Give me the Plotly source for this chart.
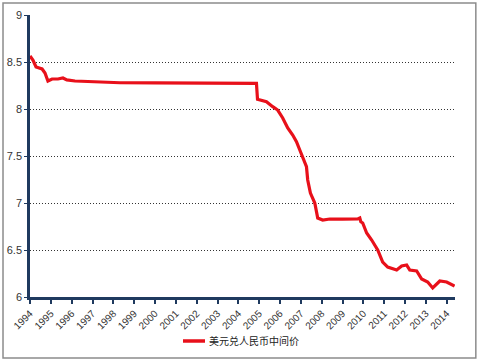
import plotly.graph_objects as go

# Monthly-ish readings (decimal year, USD/CNY central parity)
years = [1994.00, 1994.14, 1994.29, 1994.58, 1994.72, 1994.86, 1995.06, 1995.34, 1995.58,
         1995.77, 1996.16, 1997.36, 1998.32, 2000.0, 2002.0, 2004.0, 2004.87, 2004.92,
         2005.35, 2005.65, 2005.89, 2006.13, 2006.37, 2006.61, 2006.79, 2006.95, 2007.09,
         2007.27, 2007.33, 2007.46, 2007.67, 2007.81, 2008.05, 2008.39, 2009.0, 2009.73,
         2009.83, 2009.88, 2009.97, 2010.16, 2010.40, 2010.69, 2010.93, 2011.17, 2011.60,
         2011.84, 2012.08, 2012.23, 2012.56, 2012.80, 2013.09, 2013.33, 2013.67, 2014.00,
         2014.38]
rates = [8.564, 8.521, 8.447, 8.426, 8.383, 8.298, 8.319, 8.319, 8.330,
         8.309, 8.298, 8.284, 8.279, 8.278, 8.277, 8.277, 8.273, 8.103,
         8.078, 8.025, 7.989, 7.904, 7.798, 7.723, 7.652, 7.564, 7.493,
         7.387, 7.245, 7.106, 7.000, 6.840, 6.819, 6.830, 6.829, 6.830,
         6.840, 6.800, 6.787, 6.681, 6.606, 6.500, 6.372, 6.319, 6.287,
         6.330, 6.340, 6.287, 6.277, 6.191, 6.160, 6.096, 6.170, 6.160,
         6.117]
tick_years = list(range(1994, 2015))
tick_labels = [str(y) for y in tick_years]
y_ticks = [6, 6.5, 7, 7.5, 8, 8.5, 9]
y_labels = ["6", "6.5", "7", "7.5", "8", "8.5", "9"]
series_name = "美元兑人民币中间价"

line_color = "#E8101A"
fig = go.Figure()
fig.add_trace(go.Scatter(
    x=years, y=rates, mode="lines", name=series_name,
    line=dict(color=line_color, width=3.2), showlegend=False,
))

axis_color = "#1F3A5F"
fig.update_layout(
    width=479, height=363,
    margin=dict(l=30, r=24, t=15, b=66),
    paper_bgcolor="white", plot_bgcolor="white",
    font=dict(family="Liberation Sans, Arial, Noto Sans CJK SC", size=11, color="#333333"),
    showlegend=False,
    xaxis=dict(
        range=[1994, 2014.4], tickmode="array", tickvals=tick_years, ticktext=tick_labels,
        tickangle=-45, ticks="outside", ticklen=4, tickwidth=1.5, tickcolor=axis_color,
        showline=True, linecolor=axis_color, linewidth=2.5, showgrid=False, zeroline=False,
        tickfont=dict(size=10, color="#333333"), automargin=False,
    ),
    yaxis=dict(
        range=[6, 9], tickmode="array", tickvals=y_ticks, ticktext=y_labels,
        ticks="outside", ticklen=3, tickwidth=1, tickcolor=axis_color,
        showline=True, linecolor=axis_color, linewidth=2.5,
        showgrid=True, gridcolor="#333333", gridwidth=1, griddash="1px,2px", zeroline=False,
        tickfont=dict(size=11, color="#333333"), automargin=False,
    ),
    shapes=[
        dict(type="rect", xref="paper", yref="paper",
             x0=-0.0635, x1=1.049, y0=-0.216, y1=1.0426,
             line=dict(color="#8C8C8C", width=1.5), fillcolor="rgba(0,0,0,0)", layer="below"),
        dict(type="line", xref="paper", yref="paper",
             x0=0.36, x1=0.4118, y0=-0.156, y1=-0.156,
             line=dict(color=line_color, width=3.5)),
    ],
    annotations=[
        dict(text=series_name, xref="paper", yref="paper", x=0.4165, y=-0.156,
             xanchor="left", yanchor="middle", showarrow=False,
             font=dict(family="Noto Sans CJK SC, Liberation Sans", size=10, color="#222222")),
    ],
)

fig.write_html("out.html", config={"displayModeBar": False},
               post_script="document.body.style.margin='0';document.body.style.padding='0';")
